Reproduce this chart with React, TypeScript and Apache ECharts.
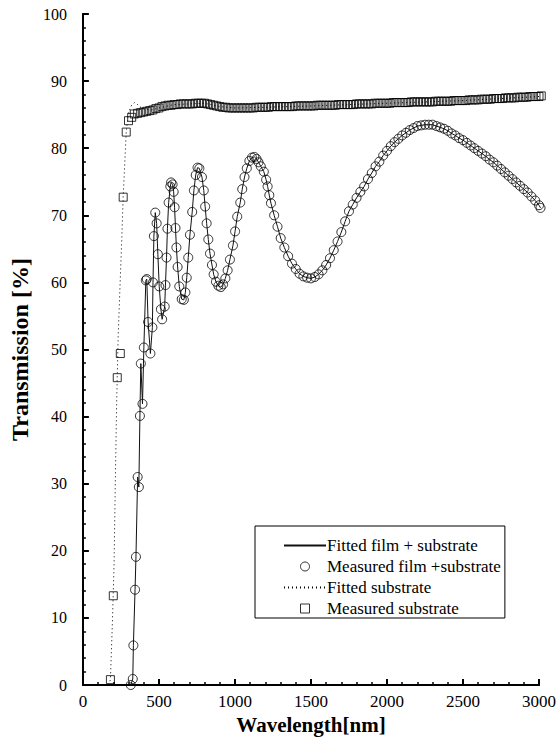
import React, { useEffect, useRef } from "react";
import * as echarts from "echarts";

// Measured film + substrate (wavelength nm, transmission %)
const filmWavelength = [
  315, 328, 332, 343, 349, 360, 368, 375, 381, 392, 401, 414, 420, 429, 444, 457, 461, 467, 476, 485,
  493, 502, 513, 521, 538, 543, 550, 556, 564, 575, 580, 590, 597, 603, 609, 615, 623, 634, 650, 664,
  674, 683, 693, 704, 719, 730, 742, 754, 766, 783, 795, 804, 814, 825, 836, 849, 860, 875, 891, 907,
  922, 937, 952, 967, 987, 1001, 1015, 1035, 1048, 1063, 1078, 1095, 1112, 1128, 1142, 1155, 1170, 1190, 1205, 1215,
  1226, 1237, 1258, 1280, 1301, 1325, 1350, 1375, 1400, 1425, 1450, 1475, 1500, 1525, 1550, 1575, 1600, 1625, 1650, 1675,
  1700, 1725, 1750, 1775, 1800, 1825, 1850, 1875, 1900, 1925, 1950, 1975, 2000, 2025, 2050, 2075, 2100, 2125, 2150, 2175,
  2200, 2225, 2250, 2275, 2300, 2325, 2350, 2375, 2400, 2425, 2450, 2475, 2500, 2525, 2550, 2575, 2600, 2625, 2650, 2675,
  2700, 2725, 2750, 2775, 2800, 2825, 2850, 2875, 2900, 2925, 2950, 2975, 3000, 3010,
];
const filmTransmission = [
  0.0, 0.9, 5.9, 14.2, 19.1, 31.0, 29.5, 40.1, 47.9, 41.9, 50.3, 60.3, 60.5, 54.1, 49.4, 53.3, 60.0, 66.9, 70.4, 68.8,
  64.2, 59.4, 56.0, 54.5, 56.4, 59.6, 63.7, 68.0, 71.9, 74.3, 74.9, 74.6, 73.5, 71.2, 68.1, 65.2, 62.3, 59.4, 57.5, 57.4,
  58.5, 60.7, 63.7, 67.1, 70.5, 73.7, 76.0, 77.1, 77.0, 75.7, 73.7, 71.3, 68.8, 66.4, 64.3, 62.6, 61.2, 60.1, 59.5, 59.3,
  59.7, 60.6, 61.8, 63.4, 65.5, 67.6, 69.8, 71.9, 73.9, 75.7, 77.0, 78.1, 78.6, 78.7, 78.4, 77.9, 77.3, 76.5, 75.3, 74.3,
  73.0, 71.8, 70.0, 68.3, 66.6, 65.2, 63.9, 62.8, 62.0, 61.3, 60.9, 60.7, 60.6, 60.8, 61.2, 61.8, 62.6, 63.6, 64.8, 66.1,
  67.5, 69.1, 70.6, 71.6, 72.6, 73.5, 74.3, 75.4, 76.3, 77.3, 78.0, 78.9, 79.6, 80.3, 80.9, 81.4, 81.9, 82.3, 82.7, 83.0,
  83.3, 83.4, 83.5, 83.5, 83.5, 83.3, 83.1, 82.9, 82.6, 82.2, 81.9, 81.5, 81.2, 80.8, 80.4, 80.0, 79.6, 79.2, 78.8, 78.3,
  77.9, 77.4, 76.9, 76.4, 75.9, 75.4, 74.9, 74.4, 73.9, 73.4, 72.8, 72.2, 71.5, 71.1,
];

// Measured substrate
const substrateWavelength = [
  181, 200, 226, 246, 265, 285, 300, 321, 338,
  360, 380, 400, 420, 440, 460, 480, 500, 520, 540, 560, 580, 600, 620, 640, 660, 680, 700, 720, 740,
  760, 780, 800, 820, 840, 860, 880, 900, 920, 940, 960, 980, 1000, 1020, 1040, 1060, 1080, 1100, 1120, 1140,
  1160, 1180, 1200, 1220, 1240, 1260, 1280, 1300, 1320, 1340, 1360, 1380, 1400, 1420, 1440, 1460, 1480, 1500, 1520, 1540,
  1560, 1580, 1600, 1620, 1640, 1660, 1680, 1700, 1720, 1740, 1760, 1780, 1800, 1820, 1840, 1860, 1880, 1900, 1920, 1940,
  1960, 1980, 2000, 2020, 2040, 2060, 2080, 2100, 2120, 2140, 2160, 2180, 2200, 2220, 2240, 2260, 2280, 2300, 2320, 2340,
  2360, 2380, 2400, 2420, 2440, 2460, 2480, 2500, 2520, 2540, 2560, 2580, 2600, 2620, 2640, 2660, 2680, 2700, 2720, 2740,
  2760, 2780, 2800, 2820, 2840, 2860, 2880, 2900, 2920, 2940, 2960, 2980, 3000, 3015,
];
const substrateTransmission = [
  0.8, 13.3, 45.8, 49.4, 72.7, 82.4, 84.1, 84.6, 85.1,
  85.2, 85.3, 85.4, 85.5, 85.6, 85.7, 85.9, 86.0, 86.2, 86.3, 86.4, 86.4, 86.5, 86.5, 86.6, 86.6, 86.6, 86.6, 86.6, 86.7,
  86.7, 86.7, 86.7, 86.6, 86.5, 86.4, 86.3, 86.2, 86.1, 86.1, 86.0, 86.0, 86.0, 86.0, 86.0, 86.0, 86.0, 86.0, 86.0, 86.1,
  86.1, 86.1, 86.1, 86.1, 86.2, 86.2, 86.2, 86.2, 86.2, 86.2, 86.2, 86.2, 86.3, 86.3, 86.3, 86.3, 86.3, 86.3, 86.3, 86.4,
  86.4, 86.4, 86.4, 86.4, 86.4, 86.4, 86.5, 86.5, 86.5, 86.5, 86.5, 86.5, 86.6, 86.6, 86.6, 86.6, 86.6, 86.6, 86.7, 86.7,
  86.7, 86.7, 86.7, 86.7, 86.8, 86.8, 86.8, 86.8, 86.8, 86.8, 86.9, 86.9, 86.9, 86.9, 86.9, 86.9, 86.9, 86.9, 87.0, 87.0,
  87.0, 87.0, 87.0, 87.0, 87.1, 87.1, 87.1, 87.1, 87.1, 87.2, 87.2, 87.2, 87.2, 87.3, 87.3, 87.3, 87.3, 87.4, 87.4, 87.4,
  87.4, 87.5, 87.5, 87.5, 87.5, 87.6, 87.6, 87.6, 87.6, 87.7, 87.7, 87.7, 87.7, 87.8,
];

// Fitted substrate
const fitSubWavelength = [
  170, 181, 195, 205, 213, 222, 232, 245, 255, 265, 285, 300, 320, 340, 360, 390, 450, 500, 600, 800,
  900, 1000, 1200, 1500, 2000, 2500, 3000, 3015,
];
const fitSubTransmission = [
  0.0, 0.8, 10.0, 18.0, 30.0, 42.0, 52.0, 60.0, 66.0, 72.7, 82.4, 85.3, 86.4, 86.8, 86.5, 85.9, 85.7, 86.0, 86.5, 86.7,
  86.2, 86.0, 86.1, 86.3, 86.7, 87.1, 87.7, 87.8,
];

const xTicks = { min: 0, max: 3000, interval: 500 };
const yTicks = { min: 0, max: 100, interval: 10 };

const legendNames = [
  "Fitted film + substrate",
  "Measured film +substrate",
  "Fitted substrate",
  "Measured substrate",
];

const zip = (a: number[], b: number[]) => a.map((v, i) => [v, b[i]]);

const FONT = "Liberation Serif";
const HOLLOW = { color: "rgba(255,255,255,0)", borderColor: "#000", borderWidth: 1 };

export default function App() {
  const ref = useRef<HTMLDivElement>(null);
  useEffect(() => {
    if (!ref.current) return;
    const chart = echarts.init(ref.current, null, { renderer: "svg" });
    const filmData = zip(filmWavelength, filmTransmission);
    const subData = zip(substrateWavelength, substrateTransmission);
    const fitSubData = zip(fitSubWavelength, fitSubTransmission);
    const axisLine = { show: true, lineStyle: { color: "#000", width: 2 } };
    const noSymbol = { color: "rgba(0,0,0,0)", borderWidth: 0, opacity: 0 };
    chart.setOption({
      animation: false,
      backgroundColor: "#fff",
      grid: { left: 77, right: 17, top: 14, bottom: 57 },
      legend: {
        orient: "vertical",
        left: 255,
        top: 526,
        itemWidth: 42,
        itemHeight: 9,
        itemGap: 4,
        padding: [11, 4, 1, 28],
        borderColor: "#000",
        borderWidth: 1,
        symbolKeepAspect: true,
        textStyle: {
          fontFamily: FONT,
          fontSize: 17,
          lineHeight: 17,
          color: "#000",
          padding: [0, 0, 0, -4],
        },
        data: [
          { name: legendNames[0], itemStyle: noSymbol },
          { name: legendNames[1], icon: "circle", itemStyle: HOLLOW },
          { name: legendNames[2], itemStyle: noSymbol },
          { name: legendNames[3], icon: "path://M0,0H10V10H0Z", itemStyle: HOLLOW },
        ],
      },
      xAxis: [
        {
          type: "value",
          min: xTicks.min,
          max: xTicks.max,
          interval: xTicks.interval,
          name: "Wavelength[nm]",
          nameLocation: "middle",
          nameGap: 28,
          nameTextStyle: { fontFamily: FONT, fontSize: 21, fontWeight: "bold", color: "#000" },
          axisLine,
          axisTick: { show: true, inside: true, length: 6, lineStyle: { color: "#000", width: 2 } },
          minorTick: { show: true, splitNumber: 5, length: 3, lineStyle: { color: "#000", width: 1.5 } },
          axisLabel: {
            fontFamily: FONT,
            fontSize: 17,
            color: "#000",
            margin: 8,
            formatter: (v: number) => String(v),
          },
          splitLine: { show: false },
        },
        {
          type: "value",
          position: "top",
          min: xTicks.min,
          max: xTicks.max,
          axisLine,
          axisTick: { show: false },
          axisLabel: { show: false },
          splitLine: { show: false },
        },
      ],
      yAxis: [
        {
          type: "value",
          min: yTicks.min,
          max: yTicks.max,
          interval: yTicks.interval,
          name: "Transmission [%]",
          nameLocation: "middle",
          nameGap: 46,
          nameTextStyle: { fontFamily: FONT, fontSize: 24, fontWeight: "bold", color: "#000" },
          axisLine,
          axisTick: { show: true, inside: true, length: 6, lineStyle: { color: "#000", width: 2 } },
          minorTick: { show: true, splitNumber: 5, length: 3, lineStyle: { color: "#000", width: 1.5 } },
          axisLabel: { fontFamily: FONT, fontSize: 16, color: "#000", margin: 16 },
          splitLine: { show: false },
        },
        {
          type: "value",
          position: "right",
          min: yTicks.min,
          max: yTicks.max,
          axisLine,
          axisTick: { show: false },
          axisLabel: { show: false },
          splitLine: { show: false },
        },
      ],
      series: [
        {
          name: legendNames[0],
          type: "line",
          data: filmData,
          symbol: "none",
          clip: false,
          lineStyle: { color: "#111", width: 1 },
          itemStyle: { color: "#111" },
        },
        {
          name: legendNames[1],
          type: "scatter",
          data: filmData,
          symbol: "circle",
          symbolSize: 9,
          clip: false,
          itemStyle: HOLLOW,
        },
        {
          name: legendNames[2],
          type: "line",
          data: fitSubData,
          symbol: "none",
          clip: false,
          lineStyle: { color: "#000", width: 1, type: [1, 3] },
          itemStyle: { color: "#000" },
        },
        {
          name: legendNames[3],
          type: "scatter",
          data: subData,
          symbol: "rect",
          symbolSize: 8,
          clip: false,
          itemStyle: HOLLOW,
        },
      ],
    });
    return () => chart.dispose();
  }, []);
  return (
    <div
      ref={ref}
      style={{ position: "fixed", left: 0, top: 0, width: 559, height: 742, background: "#fff" }}
    />
  );
}
